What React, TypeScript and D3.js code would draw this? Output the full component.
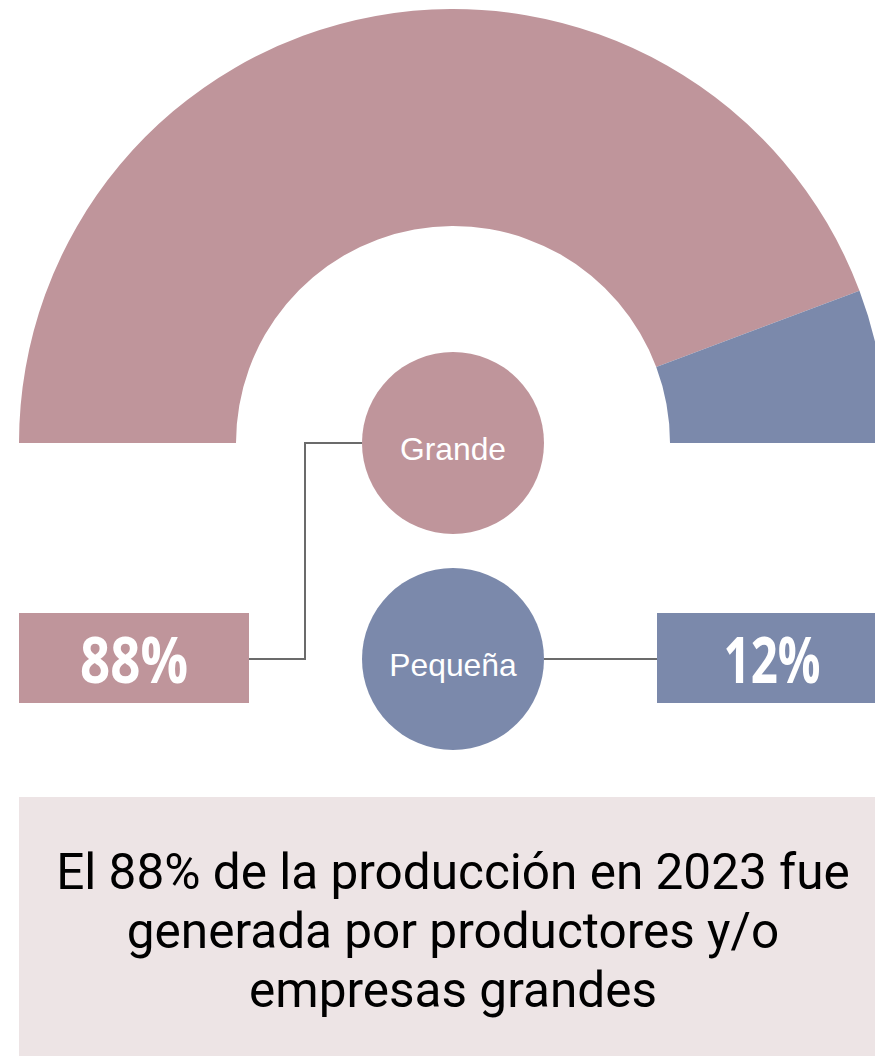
import React from "react";
import * as d3 from "d3";

const categories = ["Grande", "Pequeña"];
const values = [88.6, 11.4];
const valueLabels = ["88%", "12%"];
const colors = ["#BF959B", "#7B89AB"];
const captionLines = [
  "El 88% de la producción en 2023 fue",
  "generada por productores y/o",
  "empresas grandes",
];

export default function App() {
  const W = 875;
  const H = 1056;
  const cx = 453;
  const cy = 443;
  const rOuter = 434;
  const rInner = 217;

  const pie = d3
    .pie<number>()
    .sort(null)
    .startAngle(-Math.PI / 2)
    .endAngle(Math.PI / 2)
    .value((d) => d);
  const arcs = pie(values);
  const arc = d3.arc<d3.PieArcDatum<number>>().innerRadius(rInner).outerRadius(rOuter);

  const bubbleR = 91;
  const bubbleY = [443, 659];
  const boxW = 230;
  const boxH = 90;
  const boxY = 613;
  const boxX = [19, 657];
  const lineY = 659;
  const lineColor = "#6b6b6b";

  return (
    <svg
      width={W}
      height={H}
      style={{ position: "absolute", left: 0, top: 0, display: "block" }}
    >
      <g transform={`translate(${cx},${cy})`}>
        {arcs.map((a, i) => (
          <path key={i} d={arc(a) || ""} fill={colors[i]} />
        ))}
      </g>

      <path
        d={`M${boxX[0] + boxW},${lineY} H305 V${bubbleY[0]} H${cx - bubbleR}`}
        fill="none"
        stroke={lineColor}
        strokeWidth={2}
      />
      <path
        d={`M${cx + bubbleR},${lineY} H${boxX[1]}`}
        fill="none"
        stroke={lineColor}
        strokeWidth={2}
      />

      {categories.map((c, i) => (
        <g key={c}>
          <circle cx={cx} cy={bubbleY[i]} r={bubbleR} fill={colors[i]} />
          <text
            x={cx}
            y={bubbleY[i] + 17}
            textAnchor="middle"
            fill="#fff"
            fontFamily="'Liberation Sans', Arial, sans-serif"
            fontSize={31.8}
          >
            {c}
          </text>
          <rect x={boxX[i]} y={boxY} width={boxW} height={boxH} fill={colors[i]} />
          <text
            x={boxX[i] + boxW / 2}
            y={683}
            textAnchor="middle"
            fill="#fff"
            fontFamily="'Open Sans', sans-serif"
            fontWeight={700}
            fontSize={64}
            textLength={i === 0 ? 108 : 97}
            lengthAdjust="spacingAndGlyphs"
          >
            {valueLabels[i]}
          </text>
        </g>
      ))}

      <rect x={19} y={797} width={W - 19} height={H - 797} fill="#EDE4E5" />
      {captionLines.map((l, i) => (
        <text
          key={i}
          x={453}
          y={889 + i * 59}
          textAnchor="middle"
          fill="#000"
          fontFamily="Roboto, sans-serif"
          fontSize={49.5}
        >
          {l}
        </text>
      ))}
    </svg>
  );
}
